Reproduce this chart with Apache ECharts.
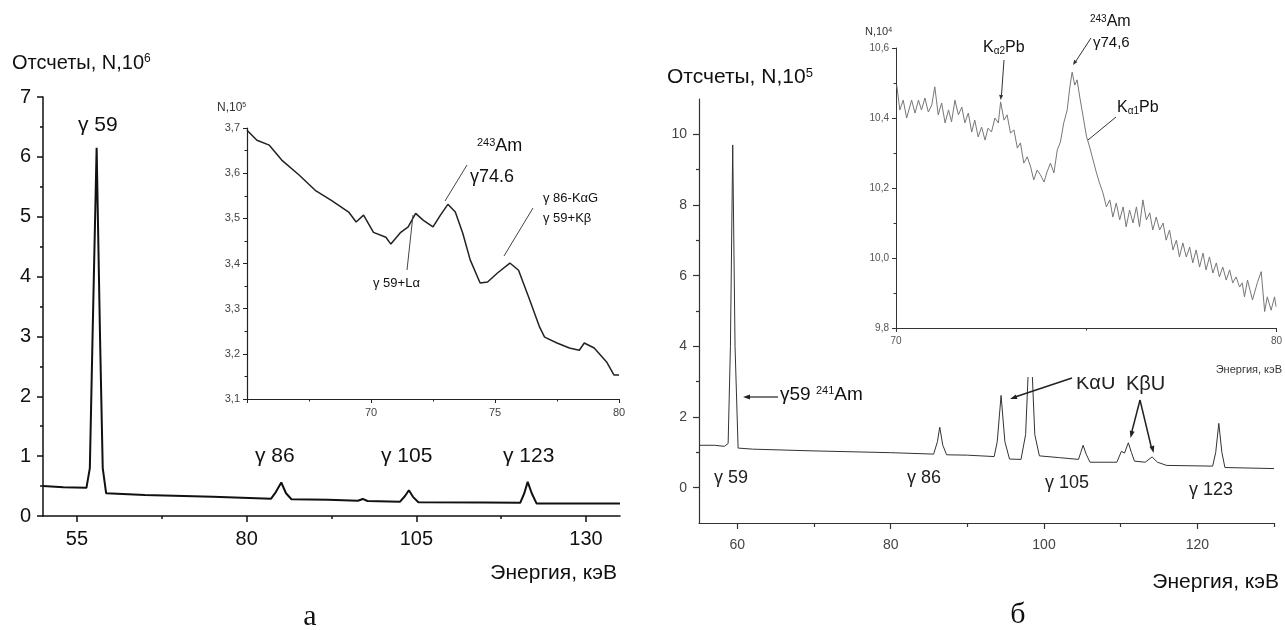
<!DOCTYPE html>
<html lang="ru">
<head>
    <meta charset="UTF-8">
    <script src="https://cdn.jsdelivr.net/npm/echarts@6/dist/echarts.min.js"></script>
    <style>
        html, body { margin: 0; padding: 0; background: #ffffff; }
        #chart { width: 1285px; height: 630px; }
    </style>
</head>
<body>
<div id="chart"></div>
<script type="text/javascript">
    // panel a, main spectrum: [energy keV, counts x10^6]
    const aMainData = [
        [50, 0.50], [53, 0.48], [56.4, 0.47], [56.9, 0.8], [57.3, 3.0], [57.9, 6.15], [58.4, 3.0], [58.8, 0.8],
        [59.3, 0.38], [65, 0.35], [75, 0.32], [83.6, 0.29], [84.3, 0.40], [85.1, 0.56], [85.8, 0.38], [86.6, 0.28],
        [92, 0.27], [96.4, 0.255], [97.1, 0.285], [97.8, 0.25], [102.6, 0.24], [103.3, 0.33], [103.9, 0.43],
        [104.5, 0.32], [105.3, 0.23], [115, 0.225], [120.3, 0.22], [120.9, 0.38], [121.4, 0.57], [122.0, 0.38],
        [122.7, 0.21], [135, 0.21]
    ];
    // panel a, inset: [energy keV, counts x10^5]
    const aInsetData = [
        [65.0, 3.695], [65.4, 3.673], [65.9, 3.662], [66.4, 3.629], [67.1, 3.596], [67.75, 3.562], [68.4, 3.540],
        [69.1, 3.514], [69.4, 3.492], [69.7, 3.507], [70.1, 3.469], [70.6, 3.458], [70.8, 3.443], [71.2, 3.469],
        [71.5, 3.481], [71.8, 3.511], [72.1, 3.496], [72.5, 3.481], [72.8, 3.507], [73.1, 3.531], [73.4, 3.514],
        [73.7, 3.467], [74.0, 3.408], [74.4, 3.357], [74.7, 3.359], [75.1, 3.379], [75.6, 3.401], [75.95, 3.385],
        [76.4, 3.319], [76.8, 3.259], [77.0, 3.237], [77.5, 3.224], [78.0, 3.213], [78.4, 3.208], [78.6, 3.224],
        [79.0, 3.213], [79.5, 3.182], [79.8, 3.153], [80.0, 3.153]
    ];
    // panel b, main spectrum: [energy keV, counts x10^5]
    const bMainData = [
        [55, 1.20], [57, 1.20], [58.3, 1.17], [58.8, 1.25], [59.1, 4.0], [59.4, 9.7], [59.7, 4.0], [60.1, 1.12],
        [62, 1.09], [70, 1.04], [80, 0.99], [85.6, 0.95], [86.1, 1.3], [86.4, 1.71], [86.8, 1.2], [87.3, 0.93],
        [90, 0.92], [93.5, 0.88], [93.9, 1.3], [94.4, 2.61], [94.9, 1.3], [95.5, 0.81], [97, 0.80], [97.6, 1.5],
        [98.2, 4.6], [98.8, 1.5], [99.4, 0.9], [102, 0.85], [104.5, 0.80], [104.8, 1.0], [105.1, 1.2], [105.5, 0.95],
        [106, 0.72], [109.5, 0.72], [110.1, 1.03], [110.5, 0.98], [111.0, 1.27], [111.4, 1.0], [111.8, 0.75],
        [113.2, 0.72], [114.1, 0.87], [114.8, 0.72], [116, 0.63], [122, 0.61], [122.4, 1.0], [122.8, 1.82],
        [123.2, 1.0], [123.6, 0.57], [130, 0.54]
    ];
    // panel b, inset: [energy keV, counts x10^4]
    const bInsetData = [
        [70.02, 10.494], [70.10, 10.423], [70.19, 10.451], [70.28, 10.400], [70.41, 10.451], [70.50, 10.414],
        [70.59, 10.451], [70.67, 10.423], [70.76, 10.457], [70.85, 10.417], [70.94, 10.437], [71.02, 10.489],
        [71.11, 10.409], [71.20, 10.443], [71.29, 10.386], [71.38, 10.423], [71.46, 10.389], [71.55, 10.451],
        [71.64, 10.409], [71.73, 10.431], [71.81, 10.386], [71.90, 10.414], [71.99, 10.360], [72.07, 10.394],
        [72.16, 10.346], [72.25, 10.374], [72.34, 10.337], [72.42, 10.371], [72.51, 10.360], [72.60, 10.400],
        [72.69, 10.386], [72.75, 10.446], [72.84, 10.394], [72.92, 10.409], [73.01, 10.357], [73.10, 10.366],
        [73.19, 10.314], [73.27, 10.329], [73.36, 10.271], [73.45, 10.289], [73.54, 10.260], [73.62, 10.223],
        [73.71, 10.251], [73.80, 10.237], [73.89, 10.217], [73.97, 10.246], [74.06, 10.271], [74.15, 10.243],
        [74.24, 10.309], [74.32, 10.331], [74.41, 10.386], [74.50, 10.423], [74.57, 10.489], [74.63, 10.531],
        [74.70, 10.494], [74.76, 10.509], [74.83, 10.460], [74.92, 10.403], [75.01, 10.346], [75.09, 10.317],
        [75.18, 10.280], [75.27, 10.243], [75.35, 10.214], [75.44, 10.186], [75.53, 10.146], [75.62, 10.166],
        [75.70, 10.117], [75.79, 10.157], [75.88, 10.109], [75.97, 10.146], [76.05, 10.089], [76.14, 10.137],
        [76.23, 10.100], [76.32, 10.146], [76.40, 10.089], [76.49, 10.166], [76.58, 10.109], [76.67, 10.129],
        [76.75, 10.080], [76.84, 10.117], [76.93, 10.080], [77.02, 10.100], [77.10, 10.051], [77.19, 10.080],
        [77.28, 10.023], [77.37, 10.051], [77.45, 10.003], [77.54, 10.043], [77.63, 10.003], [77.72, 10.031],
        [77.80, 9.986], [77.89, 10.023], [77.98, 9.974], [78.07, 10.014], [78.15, 9.966], [78.24, 10.003],
        [78.33, 9.957], [78.42, 9.986], [78.50, 9.946], [78.59, 9.974], [78.68, 9.937], [78.77, 9.966],
        [78.85, 9.929], [78.94, 9.946], [79.03, 9.917], [79.10, 9.929], [79.16, 9.889], [79.24, 9.937],
        [79.37, 9.880], [79.50, 9.930], [79.60, 9.961], [79.69, 9.847], [79.76, 9.889], [79.86, 9.851],
        [79.95, 9.889], [79.99, 9.861]
    ];

    // tick positions
    const aMainXTicks = [55, 80, 105, 130];
    const aMainXMinor = [67.5, 92.5, 117.5];
    const bMainXTicks = [60, 80, 100, 120];
    const bMainXMinor = [70, 90, 110, 130];
    const bMainYTicks = [0, 2, 4, 6, 8, 10];
    const bMainYMinor = [1, 3, 5, 7, 9];

    const FONT = '"Liberation Sans", Arial, sans-serif';
    const comma = function (v) { return v.toFixed(1).replace('.', ','); };

    function txt(x, y, text, size, opts) {
        opts = opts || {};
        return {
            type: 'text', x: x, y: y, z: opts.z || 10,
            style: {
                text: text,
                fontSize: size,
                fontFamily: opts.family || FONT,
                fill: opts.color || '#111',
                textAlign: opts.align || 'left',
                align: opts.align || 'left',
                textVerticalAlign: 'middle',
                verticalAlign: 'middle',
                rich: {
                    sup: {fontSize: Math.round(size * 0.6), verticalAlign: 'top', fontFamily: FONT, fill: opts.color || '#111'},
                    sub: {fontSize: Math.round(size * 0.6), verticalAlign: 'bottom', fontFamily: FONT, fill: opts.color || '#111'}
                }
            }
        };
    }

    function seg(x1, y1, x2, y2, color, w) {
        return {
            type: 'line', z: 10,
            shape: {x1: x1, y1: y1, x2: x2, y2: y2},
            style: {stroke: color || '#333', lineWidth: w || 1}
        };
    }

    function head(x1, y1, x2, y2, color, len, wid) {
        len = len || 7;
        wid = wid || 2.5;
        const dx = x2 - x1, dy = y2 - y1;
        const d = Math.sqrt(dx * dx + dy * dy);
        const ux = dx / d, uy = dy / d;
        const bx = x2 - ux * len, by = y2 - uy * len;
        return {
            type: 'polygon', z: 10,
            shape: {points: [[x2, y2], [bx - uy * wid, by + ux * wid], [bx + uy * wid, by - ux * wid]]},
            style: {fill: color || '#333'}
        };
    }

    const chart = echarts.init(document.getElementById('chart'));

    const axisBase = function (color, w) {
        return {
            type: 'value',
            splitLine: {show: false},
            axisLine: {show: true, onZero: false, lineStyle: {color: color, width: w}},
            axisTick: {show: true, inside: false, length: 6, lineStyle: {color: color, width: w}},
            minorTick: {show: false}
        };
    };

    function ax(base, extra) {
        return Object.assign({}, base, extra);
    }

    const hiddenLine = {show: false, onZero: false};

    const aMain = axisBase('#111', 1.5);
    const aIns = axisBase('#222', 1.2);
    const bMain = axisBase('#333', 1.2);
    const bIns = axisBase('#333', 1);

    chart.setOption({
        backgroundColor: '#ffffff',
        animation: false,
        grid: [
            {left: 43, top: 97, width: 577, height: 419},
            {left: 247, top: 128, width: 372, height: 271},
            {left: 699, top: 99, width: 575, height: 424},
            {left: 896, top: 48, width: 381, height: 280, z: 5}
        ],
        xAxis: [
            ax(aMain, {gridIndex: 0, position: 'bottom', min: 50, max: 135,
                axisTick: {show: true, length: 6, customValues: aMainXTicks, lineStyle: {color: '#111', width: 1.5}},
                axisLabel: {customValues: aMainXTicks, fontSize: 20, fontFamily: FONT, color: '#111', margin: 13}}),
            ax(aMain, {gridIndex: 0, position: 'bottom', min: 50, max: 135, axisLine: hiddenLine,
                axisTick: {show: true, length: 3, customValues: aMainXMinor, lineStyle: {color: '#111', width: 1.5}},
                axisLabel: {show: false}}),
            ax(aIns, {gridIndex: 1, position: 'bottom', min: 65, max: 80, interval: 5,
                axisTick: {show: true, length: 4, lineStyle: {color: '#222', width: 1}},
                minorTick: {show: true, splitNumber: 2, length: 2.5, lineStyle: {color: '#222', width: 1}},
                axisLabel: {fontSize: 11, fontFamily: FONT, color: '#444', margin: 8, showMinLabel: false}}),
            ax(bMain, {gridIndex: 2, position: 'bottom', min: 55, max: 130,
                axisTick: {show: true, length: 6, customValues: bMainXTicks, lineStyle: {color: '#333', width: 1.2}},
                axisLabel: {customValues: bMainXTicks, fontSize: 14, fontFamily: FONT, color: '#444', margin: 15}}),
            ax(bMain, {gridIndex: 2, position: 'bottom', min: 55, max: 130, axisLine: hiddenLine,
                axisTick: {show: true, length: 4, customValues: bMainXMinor, lineStyle: {color: '#333', width: 1.2}},
                axisLabel: {show: false}}),
            ax(bIns, {gridIndex: 3, position: 'bottom', min: 70, max: 80, interval: 10, z: 5,
                axisTick: {show: true, length: 4, lineStyle: {color: '#333', width: 1}},
                minorTick: {show: true, splitNumber: 2, length: 2.5, lineStyle: {color: '#333', width: 1}},
                axisLabel: {fontSize: 10, fontFamily: FONT, color: '#555', margin: 8}})
        ],
        yAxis: [
            ax(aMain, {gridIndex: 0, position: 'left', min: 0, max: 7, interval: 1,
                axisTick: {show: true, length: 6, lineStyle: {color: '#111', width: 1.5}},
                minorTick: {show: true, splitNumber: 2, length: 3, lineStyle: {color: '#111', width: 1.5}},
                axisLabel: {fontSize: 20, fontFamily: FONT, color: '#111', margin: 12}}),
            ax(aIns, {gridIndex: 1, position: 'left', min: 3.1, max: 3.7, interval: 0.1,
                axisTick: {show: true, length: 4, lineStyle: {color: '#222', width: 1}},
                minorTick: {show: true, splitNumber: 2, length: 2.5, lineStyle: {color: '#222', width: 1}},
                axisLabel: {fontSize: 11, fontFamily: FONT, color: '#444', margin: 7, formatter: comma}}),
            ax(bMain, {gridIndex: 2, position: 'left', min: -1, max: 11,
                axisTick: {show: true, length: 6, customValues: bMainYTicks, lineStyle: {color: '#333', width: 1.2}},
                axisLabel: {customValues: bMainYTicks, fontSize: 14, fontFamily: FONT, color: '#444', margin: 12}}),
            ax(bMain, {gridIndex: 2, position: 'left', min: -1, max: 11, axisLine: hiddenLine,
                axisTick: {show: true, length: 3, customValues: bMainYMinor, lineStyle: {color: '#333', width: 1.2}},
                axisLabel: {show: false}}),
            ax(bIns, {gridIndex: 3, position: 'left', min: 9.8, max: 10.6, interval: 0.2, z: 5,
                axisTick: {show: true, length: 4, lineStyle: {color: '#333', width: 1}},
                minorTick: {show: true, splitNumber: 2, length: 2.5, lineStyle: {color: '#333', width: 1}},
                axisLabel: {fontSize: 10, fontFamily: FONT, color: '#555', margin: 7, formatter: comma}})
        ],
        series: [
            {type: 'line', xAxisIndex: 0, yAxisIndex: 0, data: aMainData, showSymbol: false, z: 1,
                lineStyle: {color: '#111', width: 2}},
            {type: 'line', xAxisIndex: 2, yAxisIndex: 1, data: aInsetData, showSymbol: false, z: 2,
                lineStyle: {color: '#222', width: 1.5}},
            {type: 'line', xAxisIndex: 3, yAxisIndex: 2, data: bMainData, showSymbol: false, z: 1,
                lineStyle: {color: '#333', width: 1}},
            {type: 'line', xAxisIndex: 5, yAxisIndex: 4, data: bInsetData, showSymbol: false, z: 5,
                lineStyle: {color: '#777', width: 1}}
        ],
        graphic: {elements: [
            // panel a
            txt(12, 63, 'Отсчеты, N,10{sup|6}', 20),
            txt(78, 125, 'γ 59', 21),
            txt(255, 456, 'γ 86', 21),
            txt(381, 456, 'γ 105', 21),
            txt(503, 456, 'γ 123', 21),
            txt(617, 573, 'Энергия, кэВ', 21, {align: 'right'}),
            txt(310, 617, 'а', 30, {align: 'center', family: '"Liberation Serif", serif'}),
            txt(217, 108, 'N,10{sup|5}', 12, {color: '#333'}),
            txt(477, 146, '{sup|243}Am', 18),
            txt(470, 177, 'γ74.6', 18),
            seg(467, 165, 445, 201, '#444', 1),
            txt(543, 198, 'γ 86-KαG', 13),
            txt(543, 218, 'γ 59+Kβ', 13),
            seg(533, 208, 504, 256, '#444', 1),
            txt(373, 283, 'γ 59+Lα', 13),
            seg(407, 270, 413, 215, '#444', 1),
            // panel b
            {type: 'rect', z: 3, shape: {x: 850, y: 0, width: 435, height: 377}, style: {fill: '#ffffff'}},
            txt(667, 77, 'Отсчеты, N,10{sup|5}', 21),
            txt(1279, 582, 'Энергия, кэВ', 21, {align: 'right'}),
            txt(1018, 615, 'б', 30, {align: 'center', family: '"Liberation Serif", serif'}),
            txt(780, 395, 'γ59 {sup|241}Am', 19),
            seg(778, 397, 748, 397, '#222', 1.2),
            head(778, 397, 743, 397, '#222'),
            txt(714, 478, 'γ 59', 18, {color: '#222'}),
            txt(907, 478, 'γ 86', 18, {color: '#222'}),
            txt(1045, 483, 'γ 105', 18, {color: '#222'}),
            txt(1189, 490, 'γ 123', 18, {color: '#222'}),
            txt(1076, 383, 'KαU', 20, {z: 2, color: '#222'}),
            seg(1072, 378, 1015, 397, '#222', 1.5),
            head(1072, 378, 1010, 399, '#222'),
            txt(1126, 384, 'KβU', 20, {color: '#222'}),
            seg(1140, 400, 1131.5, 433, '#222', 1.5),
            head(1140, 400, 1130.5, 438, '#222'),
            seg(1140, 400, 1151.5, 448, '#222', 1.5),
            head(1140, 400, 1153.6, 453, '#222'),
            // panel b inset
            txt(865, 32, 'N,10{sup|4}', 11, {color: '#333'}),
            txt(1282, 370, 'Энергия, кэВ', 11, {align: 'right', color: '#333'}),
            txt(983, 48, 'K{sub|α2}Pb', 16),
            seg(1004, 60, 1001.5, 95, '#333', 1),
            head(1004, 60, 1000.7, 100, '#333', 5, 2),
            txt(1090, 22, '{sup|243}Am', 16),
            txt(1093, 43, 'γ74,6', 15),
            seg(1091, 38, 1076, 61, '#333', 1),
            head(1091, 38, 1073, 65, '#333', 5, 2),
            txt(1117, 108, 'K{sub|α1}Pb', 16),
            seg(1116, 117, 1088, 140, '#333', 1)
        ]}
    });
</script>
</body>
</html>
